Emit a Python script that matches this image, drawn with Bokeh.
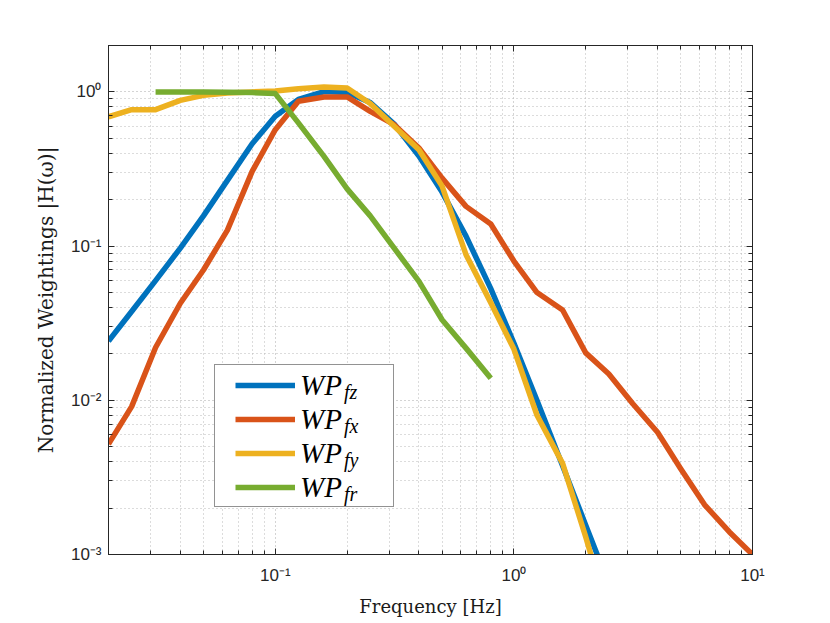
from bokeh.plotting import figure
from bokeh.models import (Legend, LegendItem, LogAxis, FixedTicker, Range1d,
                          CustomJSTickFormatter)
from bokeh.embed import file_html
from bokeh.resources import INLINE

# ---------------- data ----------------
freq = [0.02, 0.025, 0.0315, 0.04, 0.05, 0.063, 0.08, 0.1, 0.125, 0.16, 0.2,
        0.25, 0.315, 0.4, 0.5, 0.63, 0.8, 1.0, 1.25, 1.6, 2.0, 2.5, 3.15,
        4.0, 5.0, 6.3, 8.0, 10.0]

wp_fz = [0.0242, 0.0377, 0.0597, 0.0971, 0.157, 0.267, 0.461, 0.695, 0.895,
         1.006, 0.992, 0.854, 0.619, 0.384, 0.224, 0.116, 0.053, 0.0235,
         0.00998, 0.00377, 0.00155, 0.00064]
wp_fx = [0.0052, 0.0091, 0.022, 0.0426, 0.070, 0.127, 0.305, 0.569, 0.869,
         0.928, 0.928, 0.748, 0.613, 0.433, 0.276, 0.181, 0.139, 0.080,
         0.0500, 0.0385, 0.0203, 0.0148, 0.0095, 0.0062, 0.0036, 0.0021,
         0.0014, 0.0010]
wp_fy = [0.69, 0.767, 0.767, 0.882, 0.95, 0.985, 1.0, 1.015, 1.05, 1.077,
         1.06, 0.84, 0.598, 0.422, 0.245, 0.088, 0.043, 0.0215, 0.0080,
         0.0039, 0.0013, 0.0004]
freq_fr = [0.0315, 0.04, 0.05, 0.063, 0.08, 0.1, 0.125, 0.16, 0.2, 0.25,
           0.315, 0.4, 0.5, 0.63, 0.8]
wp_fr = [1.0, 1.0, 1.0, 0.995, 0.99, 0.975, 0.63, 0.382, 0.235, 0.157,
         0.097, 0.059, 0.0333, 0.0218, 0.0139]

series_names = ["fz", "fx", "fy", "fr"]
series_colors = ["#0072BD", "#D95319", "#EDB120", "#77AC30"]

x_ticks = [0.1, 1.0, 10.0]
x_tick_labels = ["10\u207b\u00b9", "10\u2070", "10\u00b9"]
y_ticks = [0.001, 0.01, 0.1, 1.0]
y_tick_labels = ["10\u207b\u00b3", "10\u207b\u00b2", "10\u207b\u00b9", "10\u2070"]
x_minor = [m * 10.0 ** k for k in range(-2, 1) for m in range(2, 10)]
y_minor = [m * 10.0 ** k for k in range(-3, 1) for m in range(2, 10)]

AX = "#262626"

# ---------------- figure ----------------
p = figure(width=830, height=623, x_axis_type="log", y_axis_type="log",
           x_range=Range1d(0.02, 10), y_range=Range1d(0.001, 2.0),
           output_backend="svg", toolbar_location=None,
           min_border_left=108, min_border_right=78,
           min_border_top=45, min_border_bottom=69)
p.background_fill_color = "white"
p.border_fill_color = "white"
p.outline_line_color = AX
p.outline_line_width = 1

xt = FixedTicker(ticks=x_ticks, minor_ticks=x_minor)
yt = FixedTicker(ticks=y_ticks, minor_ticks=y_minor)

fmt_code = """
let best = 0, bd = Infinity;
for (let i = 0; i < tvals.length; i++) {
  const d = Math.abs(Math.log10(tick) - Math.log10(tvals[i]));
  if (d < bd) { bd = d; best = i; }
}
return bd < 1e-6 ? tlabels[best] : "";
"""
xfmt = CustomJSTickFormatter(args=dict(tvals=x_ticks, tlabels=x_tick_labels), code=fmt_code)
yfmt = CustomJSTickFormatter(args=dict(tvals=y_ticks, tlabels=y_tick_labels), code=fmt_code)


def style_axis(ax):
    ax.axis_line_color = AX
    ax.major_tick_line_color = AX
    ax.minor_tick_line_color = AX
    ax.major_tick_in = 6
    ax.major_tick_out = 0
    ax.minor_tick_in = 4
    ax.minor_tick_out = 0
    ax.major_label_text_font = "Liberation Sans"
    ax.major_label_text_font_size = "17px"
    ax.major_label_text_color = AX


for ax in p.xaxis:
    ax.ticker = xt
    ax.formatter = xfmt
    style_axis(ax)
    ax.major_label_standoff = 11
    ax.axis_label = "Frequency [Hz]"
    ax.axis_label_standoff = 8
    ax.axis_label_text_font_size = "18px"
for ax in p.yaxis:
    ax.ticker = yt
    ax.formatter = yfmt
    style_axis(ax)
    ax.major_label_standoff = 7
    ax.axis_label = "Normalized Weightings |H(\u03c9)|"
    ax.axis_label_standoff = 10
    ax.axis_label_text_font_size = "20px"
for ax in list(p.xaxis) + list(p.yaxis):
    ax.axis_label_text_font = "DejaVu Serif"
    ax.axis_label_text_font_style = "normal"
    ax.axis_label_text_color = "#1a1a1a"

top = LogAxis(ticker=xt, formatter=xfmt)
style_axis(top)
top.major_label_text_color = None
p.add_layout(top, "above")
right = LogAxis(ticker=yt, formatter=yfmt)
style_axis(right)
right.major_label_text_color = None
p.add_layout(right, "right")

for g in (p.xgrid, p.ygrid):
    g.ticker = xt if g is p.xgrid else yt
    g.grid_line_color = "#a8a8a8"
    g.grid_line_dash = "1 3"
    g.grid_line_width = 1
    g.minor_grid_line_color = "#b8b8b8"
    g.minor_grid_line_dash = "1 3"
    g.minor_grid_line_width = 1

# ---------------- lines ----------------
xs = [freq[:len(wp_fz)], freq[:len(wp_fx)], freq[:len(wp_fy)], freq_fr]
ys = [wp_fz, wp_fx, wp_fy, wp_fr]
renderers = []
for x, y, c in zip(xs, ys, series_colors):
    r = p.line(x=x, y=y, line_color=c, line_width=5.5, line_join="round")
    renderers.append(r)

dummy = p.line(x=[1.0], y=[1.0], line_alpha=0)

# ---------------- legend (box, main labels, subscripts) ----------------
box = Legend(items=[LegendItem(label=" ", renderers=[dummy])],
             location=(106, 47), padding=0, spacing=0, margin=0,
             glyph_width=20, glyph_height=141, label_width=158, label_height=141,
             label_standoff=0, border_line_color=AX, border_line_width=1,
             background_fill_color="white", background_fill_alpha=1.0,
             label_text_font_size="10px")
p.add_layout(box, "center")

main = Legend(items=[LegendItem(label="WP", renderers=[r]) for r in renderers],
              location=(127, 50), padding=0, spacing=0, margin=0,
              glyph_width=60, glyph_height=34, label_height=34, label_width=20,
              label_standoff=5, border_line_color=None, background_fill_alpha=0.0,
              label_text_font="Liberation Serif", label_text_font_style="italic",
              label_text_font_size="29px", label_text_color="black")
p.add_layout(main, "center")

subs = Legend(items=[LegendItem(label=n, renderers=[dummy]) for n in series_names],
              location=(235, 43), padding=0, spacing=0, margin=0,
              glyph_width=1, glyph_height=34, label_height=34, label_width=10,
              label_standoff=0, border_line_color=None, background_fill_alpha=0.0,
              label_text_font="Liberation Serif", label_text_font_style="italic",
              label_text_font_size="20px", label_text_color="black")
p.add_layout(subs, "center")

open("out.html", "w").write(file_html(p, INLINE))
